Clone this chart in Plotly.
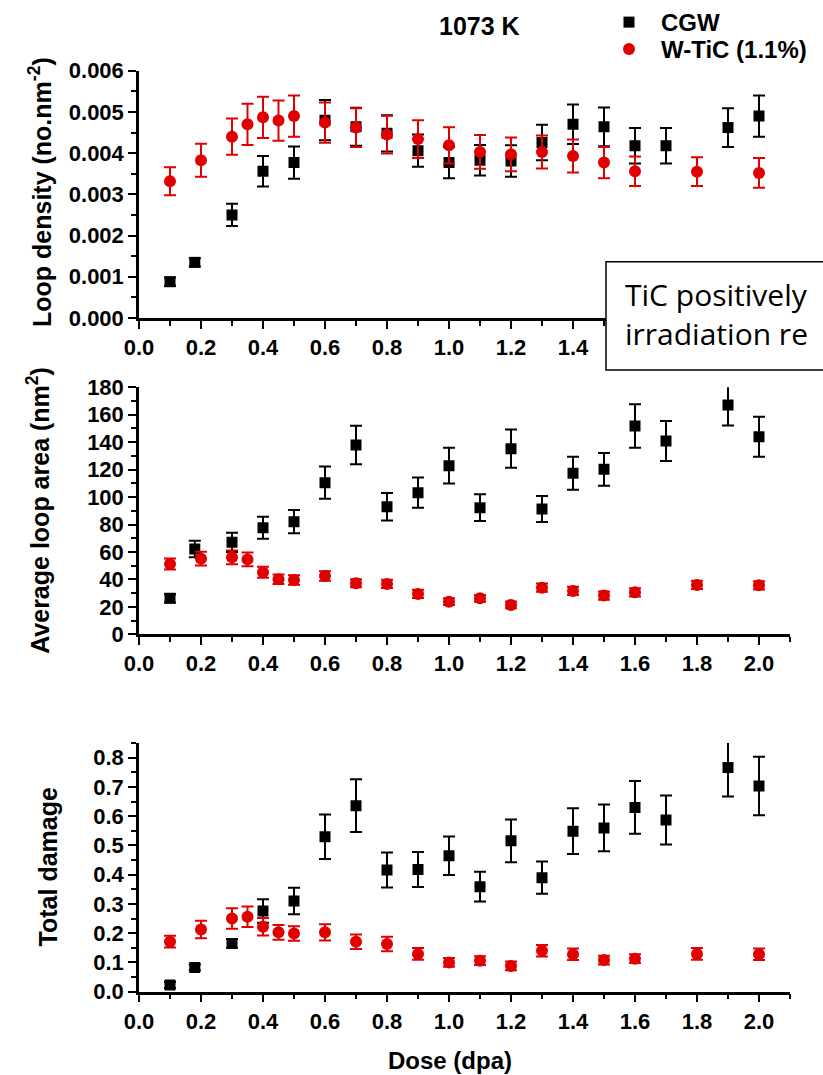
import plotly.graph_objects as go

W, H = 823, 1075

dose_cgw = [0.1, 0.18, 0.3, 0.4, 0.5, 0.6, 0.7, 0.8, 0.9, 1.0, 1.1, 1.2, 1.3, 1.4, 1.5, 1.6, 1.7, 1.9, 2.0]
dose_wtic = [0.1, 0.2, 0.3, 0.35, 0.4, 0.45, 0.5, 0.6, 0.7, 0.8, 0.9, 1.0, 1.1, 1.2, 1.3, 1.4, 1.5, 1.6, 1.8, 2.0]

density_cgw = [0.00088, 0.00135, 0.00250, 0.00356, 0.00377, 0.00480, 0.00464, 0.00448, 0.00406, 0.00377,
               0.00383, 0.00381, 0.00426, 0.00470, 0.00464, 0.00418, 0.00418, 0.00462, 0.00490]
density_cgw_err = [0.0001, 0.0001, 0.00027, 0.00037, 0.00039, 0.00049, 0.00046, 0.00044, 0.00039, 0.00038,
                   0.00037, 0.00038, 0.00043, 0.00048, 0.00047, 0.00043, 0.00043, 0.00047, 0.0005]
density_wtic = [0.00332, 0.00383, 0.00440, 0.00470, 0.00487, 0.00479, 0.00490, 0.00474, 0.00462, 0.00445,
                0.00434, 0.00419, 0.00403, 0.00397, 0.00403, 0.00393, 0.00377, 0.00356, 0.00355, 0.00352]
density_wtic_err = [0.00034, 0.0004, 0.00044, 0.0005, 0.0005, 0.00049, 0.0005, 0.00049, 0.00047, 0.00046,
                    0.00046, 0.00044, 0.00041, 0.00041, 0.0004, 0.0004, 0.00038, 0.00036, 0.00035, 0.00036]

area_cgw = [26.2, 62.2, 67.0, 77.7, 82.1, 110.5, 138.0, 93.0, 103.2, 122.9, 92.3, 135.3, 91.3, 117.3,
            120.2, 151.8, 140.9, 167.1, 144.0]
area_cgw_err = [3, 6, 7, 8, 8.5, 11.8, 14, 10, 11, 13, 9.7, 14, 9.5, 12, 12, 15.8, 14.6, 15, 14.6]
area_wtic = [51.3, 55.1, 56.1, 54.6, 45.2, 40.1, 39.6, 42.5, 37.2, 36.7, 29.4, 23.8, 26.2, 21.4, 34.0,
             31.6, 28.2, 30.6, 36.0, 35.7]
area_wtic_err = [4, 5, 5, 5, 4, 3.5, 3.5, 3.5, 3, 3, 3, 2.5, 2.5, 2.5, 3, 3, 3, 3, 3, 3]

damage_cgw = [0.023, 0.083, 0.165, 0.276, 0.31, 0.53, 0.636, 0.416, 0.418, 0.465, 0.359, 0.516, 0.39,
              0.549, 0.56, 0.63, 0.587, 0.767, 0.703]
damage_cgw_err = [0.01, 0.01, 0.015, 0.04, 0.045, 0.076, 0.09, 0.06, 0.06, 0.066, 0.051, 0.073, 0.055,
                  0.078, 0.08, 0.09, 0.084, 0.1, 0.1]
damage_wtic = [0.171, 0.213, 0.25, 0.256, 0.222, 0.203, 0.199, 0.203, 0.171, 0.163, 0.129, 0.1, 0.106,
               0.088, 0.14, 0.128, 0.108, 0.113, 0.129, 0.128]
damage_wtic_err = [0.02, 0.03, 0.035, 0.035, 0.03, 0.025, 0.025, 0.028, 0.025, 0.025, 0.02, 0.015, 0.015,
                   0.015, 0.02, 0.02, 0.015, 0.015, 0.02, 0.02]

x_ticks = [0.0, 0.2, 0.4, 0.6, 0.8, 1.0, 1.2, 1.4, 1.6, 1.8, 2.0]
x_ticks_visible_top = 8  # labels 0.0-1.4 are visible in the top panel; the rest lie under the note box

series_names = ["CGW", "W-TiC (1.1%)"]
y_titles = ["Loop density (no.nm<sup>-2</sup>)", "Average loop area (nm<sup>2</sup>)", "Total damage"]
x_title = "Dose (dpa)"
panel_title = "1073 K"
note_text = "TiC positively<br>irradiation re"

BLACK = "#000000"
RED = "#E00000"
FONT = "Liberation Sans, Arial, sans-serif"


def px_x(p):
    return p / W


def px_y(p):
    return 1 - p / H


fig = go.Figure()

panels = [
    ("x", "y", density_cgw, density_cgw_err, density_wtic, density_wtic_err),
    ("x2", "y2", area_cgw, area_cgw_err, area_wtic, area_wtic_err),
    ("x3", "y3", damage_cgw, damage_cgw_err, damage_wtic, damage_wtic_err),
]

for i, (xa, ya, yc, ec, yw, ew) in enumerate(panels):
    fig.add_trace(go.Scatter(
        x=dose_cgw, y=yc, mode="markers", name=series_names[0], xaxis=xa, yaxis=ya,
        marker=dict(symbol="square", size=11, color=BLACK),
        error_y=dict(type="data", array=ec, visible=True, color=BLACK, thickness=2, width=6),
        showlegend=(i == 0), legend="legend",
    ))
    fig.add_trace(go.Scatter(
        x=dose_wtic, y=yw, mode="markers", name=series_names[1], xaxis=xa, yaxis=ya,
        marker=dict(symbol="circle", size=12, color=RED),
        error_y=dict(type="data", array=ew, visible=True, color=RED, thickness=2, width=6),
        showlegend=(i == 0), legend="legend2",
    ))

xdom = [px_x(139), px_x(790)]
ydoms = [
    [px_y(318), px_y(70.7)],
    [px_y(634.3), px_y(387.3)],
    [px_y(991.7), px_y(743.1)],
]
yranges = [[0, 0.006], [0, 180], [0, 0.85]]
ydticks = [0.001, 20, 0.1]
yminor = [0.0005, 10, 0.05]
yformats = [".3f", "d", ".1f"]

tickfont = dict(family=FONT, size=22, color=BLACK, weight="bold")

common_axis = dict(
    showline=True, linecolor=BLACK, linewidth=2.5, mirror=False,
    ticks="outside", ticklen=8, tickwidth=2, tickcolor=BLACK,
    showgrid=False, zeroline=False, tickfont=tickfont, automargin=False,
)

for i in range(3):
    sfx = "" if i == 0 else str(i + 1)
    tv = x_ticks[:x_ticks_visible_top] if i == 0 else x_ticks
    fig.update_layout(**{
        "xaxis" + sfx: dict(
            domain=xdom, range=[0, 2.1], anchor="y" + sfx,
            tickmode="array", tickvals=tv, ticktext=[f"{v:.1f}" for v in tv],
            minor=dict(ticks="outside", ticklen=5, tickwidth=2, tickcolor=BLACK, dtick=0.1, tick0=0),
            **common_axis),
        "yaxis" + sfx: dict(
            domain=ydoms[i], range=yranges[i], anchor="x" + sfx, tick0=0, dtick=ydticks[i],
            tickformat=yformats[i],
            minor=dict(ticks="outside", ticklen=5, tickwidth=2, tickcolor=BLACK, dtick=yminor[i], tick0=0),
            **common_axis),
    })

annotations = []
title_x = [40, 38, 48]
title_y = [(66 + 318) / 2, (387.3 + 634.3) / 2, (743.1 + 991.7) / 2]
for i in range(3):
    annotations.append(dict(
        xref="paper", yref="paper", x=px_x(title_x[i]), y=px_y(title_y[i]),
        text=y_titles[i], textangle=-90, showarrow=False, xanchor="center", yanchor="middle",
        font=dict(family=FONT, size=25, color=BLACK, weight="bold"),
    ))
annotations.append(dict(
    xref="paper", yref="paper", x=px_x(450), y=px_y(1060), text=x_title, showarrow=False,
    xanchor="center", yanchor="middle", font=dict(family=FONT, size=24, color=BLACK, weight="bold"),
))
annotations.append(dict(
    xref="paper", yref="paper", x=px_x(479), y=px_y(26), text=panel_title, showarrow=False,
    xanchor="center", yanchor="middle", font=dict(family=FONT, size=25, color=BLACK, weight="bold"),
))
annotations.append(dict(
    xref="paper", yref="paper", x=px_x(623), y=px_y(314), text=note_text, showarrow=False,
    xanchor="left", yanchor="middle", align="left",
    font=dict(family="Open Sans, sans-serif", size=30, color=BLACK),
))

legend_common = dict(
    xref="container", yref="container", xanchor="left", yanchor="top",
    itemwidth=54, font=dict(family=FONT, size=24, color=BLACK, weight="bold"),
    bgcolor="rgba(0,0,0,0)", borderwidth=0, tracegroupgap=0,
)

fig.update_layout(
    width=W, height=H,
    margin=dict(l=0, r=0, t=0, b=0, pad=0, autoexpand=False),
    paper_bgcolor="white", plot_bgcolor="white",
    annotations=annotations,
    shapes=[dict(
        type="rect", xref="paper", yref="paper",
        x0=px_x(606), x1=1.02, y0=px_y(370), y1=px_y(261.7),
        line=dict(color=BLACK, width=1.5), fillcolor="white", layer="above",
    )],
    legend=dict(x=px_x(597), y=px_y(-12), **legend_common),
    legend2=dict(x=px_x(597), y=px_y(27), **legend_common),
    showlegend=True,
)

fig.write_html("out.html")
